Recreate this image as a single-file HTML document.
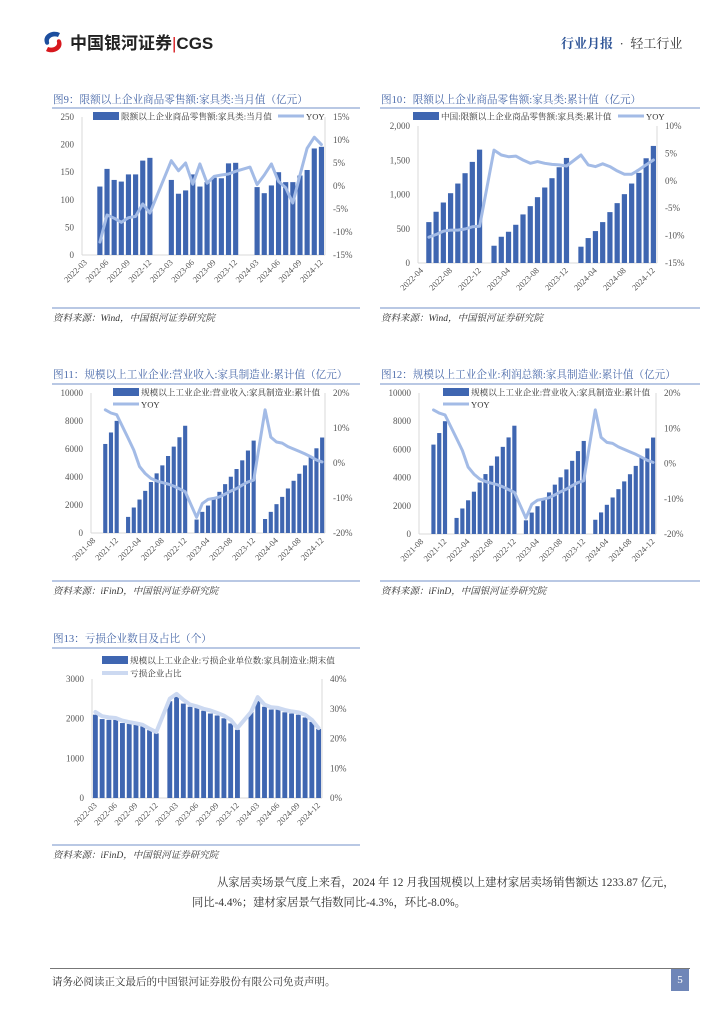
<!DOCTYPE html>
<html lang="zh">
<head>
<meta charset="utf-8">
<style>
  html,body{margin:0;padding:0;background:#fff;}
  body{width:724px;height:1024px;position:relative;overflow:hidden;font-family:"Liberation Serif","Noto Serif CJK SC","Noto Sans CJK SC",serif;}
  svg{position:absolute;left:0;top:0;}
  .abs{position:absolute;white-space:nowrap;}
</style>
</head>
<body>
<div class="abs" style="left:40px;top:29px;height:24px;">
  <svg width="26" height="24" viewBox="0 0 26 24" style="position:static;vertical-align:middle;"><path d="M20 3 C12 -1 2 5 5 13 C6 16 10 15 9 12 C8 8 13 5 18 7 Z" fill="#1d4e9e"/><path d="M6 21 C14 25 24 19 21 11 C20 8 16 9 17 12 C18 16 13 19 8 17 Z" fill="#d7181e"/></svg>
  <span style="font-family:'Liberation Sans','Noto Sans CJK SC',sans-serif;font-weight:bold;font-size:17px;color:#222;vertical-align:middle;">中国银河证券<span style="color:#d7181e;font-weight:normal;">|</span>CGS</span>
</div>
<div class="abs" style="left:561px;top:33px;font-size:13px;color:#333;font-family:'Liberation Serif','Noto Serif CJK SC',serif;"><b style="color:#2f5597;">行业月报</b> &nbsp;·&nbsp; 轻工行业</div>

<div class="abs" style="left:192px;top:873px;width:490px;font-size:11.3px;line-height:20px;color:#333;white-space:normal;text-indent:25px;">从家居卖场景气度上来看，2024 年 12 月我国规模以上建材家居卖场销售额达 1233.87 亿元，同比-4.4%；建材家居景气指数同比-4.3%，环比-8.0%。</div>

<div class="abs" style="left:50px;top:968px;width:640px;height:1px;background:#777;"></div>
<div class="abs" style="left:52px;top:974px;font-size:10.5px;color:#333;">请务必阅读正文最后的中国银河证券股份有限公司免责声明。</div>
<div class="abs" style="left:671px;top:969px;width:18px;height:22px;background:#6f86b8;color:#fff;font-size:11px;text-align:center;line-height:22px;">5</div>

<svg id="main" width="724" height="1024" xmlns="http://www.w3.org/2000/svg"></svg>

<script>
// ---------- Chart 9 data ----------
const c9Cats = ["2022-03","2022-04","2022-05","2022-06","2022-07","2022-08","2022-09","2022-10","2022-11","2022-12","2023-01","2023-02","2023-03","2023-04","2023-05","2023-06","2023-07","2023-08","2023-09","2023-10","2023-11","2023-12","2024-01","2024-02","2024-03","2024-04","2024-05","2024-06","2024-07","2024-08","2024-09","2024-10","2024-11","2024-12"];
const c9Bars = [null,null,124,156,136,133,146,146,171,176,null,null,136,111,117,146,124,132,140,139,166,167,null,null,123,112,126,150,132,132,144,154,193,196];
const c9Yoy = [null,null,-12.2,-6.3,-7,-7.9,-6.9,-6.6,-3.9,-5.9,null,null,5.5,3.3,5,0.4,4.8,0.6,2.1,2.4,2.6,3.2,null,4.1,0.3,2.4,4.8,1,-0.4,-3.7,2.4,8.2,10.6,9];
const c9LeftTicks = [0,50,100,150,200,250];
const c9LeftLabels = ["0","50","100","150","200","250"];
const c9RightTicks = [-15,-10,-5,0,5,10,15];
const c9RightLabels = ["-15%","-10%","-5%","0%","5%","10%","15%"];

// ---------- Chart 10 data ----------
const c10Cats = ["2022-04","2022-05","2022-06","2022-07","2022-08","2022-09","2022-10","2022-11","2022-12","2023-01","2023-02","2023-03","2023-04","2023-05","2023-06","2023-07","2023-08","2023-09","2023-10","2023-11","2023-12","2024-01","2024-02","2024-03","2024-04","2024-05","2024-06","2024-07","2024-08","2024-09","2024-10","2024-11","2024-12"];
const c10Bars = [null,597,748,883,1019,1160,1311,1476,1655,null,252,383,456,558,709,830,961,1102,1238,1398,1534,null,238,364,466,597,743,874,1005,1160,1316,1529,1709];
const c10Yoy = [null,-10.3,-9.8,-9.2,-9,-9,-8.8,-8.4,-8.3,null,5.6,4.7,4.4,4.5,3.8,3.2,3.5,3.2,3,2.9,2.7,null,4.7,2.9,2.6,3.1,2.6,1.8,1.2,1.2,2,2.9,3.8];
const c10LeftTicks = [0,500,1000,1500,2000];
const c10LeftLabels = ["0","500","1,000","1,500","2,000"];
const c10RightTicks = [-15,-10,-5,0,5,10];
const c10RightLabels = ["-15%","-10%","-5%","0%","5%","10%"];

// ---------- Chart 11 data ----------
const c11Cats = ["2021-08","2021-09","2021-10","2021-11","2021-12","2022-01","2022-02","2022-03","2022-04","2022-05","2022-06","2022-07","2022-08","2022-09","2022-10","2022-11","2022-12","2023-01","2023-02","2023-03","2023-04","2023-05","2023-06","2023-07","2023-08","2023-09","2023-10","2023-11","2023-12","2024-01","2024-02","2024-03","2024-04","2024-05","2024-06","2024-07","2024-08","2024-09","2024-10","2024-11","2024-12"];
const c11Bars = [null,null,6360,7180,8010,null,1150,1820,2390,3010,3640,4260,4830,5500,6170,6840,7660,null,960,1510,1960,2460,2940,3490,4020,4570,5190,5890,6600,null,1000,1510,2060,2580,3180,3730,4230,4830,5450,6050,6820];
const c11Yoy = [null,null,15.2,14.3,13.8,null,7.1,3.7,-1,-3,-4.4,-5.1,-5.6,-6,-6.6,-7.4,-8.2,null,-15.5,-11.6,-10.4,-10.1,-9.7,-8.9,-8,-7.3,-6.3,-5.4,-4.9,null,15.2,7.4,6,5.7,4.7,4,3.3,2.6,1.8,0.9,0.3];
const c11LeftTicks = [0,2000,4000,6000,8000,10000];
const c11LeftLabels = ["0","2000","4000","6000","8000","10000"];
const c11RightTicks = [-20,-10,0,10,20];
const c11RightLabels = ["-20%","-10%","0%","10%","20%"];

// ---------- Chart 12 data ----------
const c12Cats = c11Cats.slice();
const c12Bars = [null,null,6340,7160,8000,null,1140,1810,2390,3000,3650,4250,4840,5500,6180,6850,7680,null,970,1520,1970,2450,2950,3500,4020,4580,5190,5880,6600,null,1010,1530,2070,2590,3180,3730,4240,4830,5460,6070,6840];
const c12Yoy = [null,null,15.2,14.3,13.8,null,7.1,3.7,-1,-3,-4.4,-5.1,-5.6,-6,-6.6,-7.4,-8.2,null,-15.5,-11.6,-10.4,-10.1,-9.7,-8.9,-8,-7.3,-6.3,-5.4,-4.9,null,15.2,7.4,6,5.7,4.7,4,3.3,2.6,1.8,0.9,0.3];
const c12LeftTicks = [0,2000,4000,6000,8000,10000];
const c12LeftLabels = ["0","2000","4000","6000","8000","10000"];
const c12RightTicks = [-20,-10,0,10,20];
const c12RightLabels = ["-20%","-10%","0%","10%","20%"];

// ---------- Chart 13 data ----------
const c13Cats = c9Cats.slice();
const c13Bars = [2100,1990,1970,1970,1890,1870,1840,1810,1710,1630,null,2440,2550,2380,2300,2280,2200,2130,2080,2010,1880,1720,null,2170,2450,2300,2230,2230,2160,2130,2100,2030,1920,1740];
const c13Ratio = [28.9,27.5,27.1,26.9,26,25.5,25.1,24.6,23.3,22.2,null,33.4,35,33,31.4,30.8,30,29.4,28.6,27.7,26.3,23.5,null,28.9,33.9,31.4,30.5,30.3,29.6,29.1,28.8,28,26.3,23.5];
const c13LeftTicks = [0,1000,2000,3000];
const c13LeftLabels = ["0","1000","2000","3000"];
const c13RightTicks = [0,10,20,30,40];
const c13RightLabels = ["0%","10%","20%","30%","40%"];

const NS = "http://www.w3.org/2000/svg";
const svg = document.getElementById('main');
const BAR = "#3f66b1", LINE = "#a3bbe6", TITLE = "#4a6aaa", RULE = "#8fa6d4", GRAY = "#555";

function mk(tag, attrs, parent){
  const e = document.createElementNS(NS, tag);
  for (const k in attrs) e.setAttribute(k, attrs[k]);
  (parent||svg).appendChild(e);
  return e;
}
function txt(x,y,s,size,fill,anchor,parent,extra){
  const t = mk('text',{x:x,y:y,'font-size':size,fill:fill,'text-anchor':anchor||'start','font-family':'"Liberation Serif","Noto Serif CJK SC",serif'},parent);
  if(extra) for(const k in extra) t.setAttribute(k,extra[k]);
  t.textContent = s;
  return t;
}

function drawChart(o){
  const g = mk('g',{});
  
  
  const tt = txt(o.px0+1, o.titleY, o.title, 10.6, TITLE, 'start', g);
  
  
  const r1 = mk('line',{x1:o.px0,x2:o.px1,y1:o.ruleY,y2:o.ruleY,stroke:RULE,'stroke-width':1.2},g);
  
  
  const r2 = mk('line',{x1:o.px0,x2:o.px1,y1:o.srcRuleY,y2:o.srcRuleY,stroke:RULE,'stroke-width':1.2},g);
  
  
  const st = txt(o.px0+1, o.srcY, o.source, 9.5, '#333', 'start', g, {'font-style':'italic'});
  
  

  const n = o.cats.length;
  const w = (o.x1 - o.x0)/n;
  const xc = i => o.x0 + (i+0.5)*w;
  const yL = v => o.y1 - (v - o.lMin)/(o.lMax - o.lMin)*(o.y1 - o.y0);
  const yR = v => o.y1 - (v - o.rMin)/(o.rMax - o.rMin)*(o.y1 - o.y0);

  mk('line',{x1:o.x0,x2:o.x0,y1:o.y0,y2:o.y1,stroke:'#d9d9d9','stroke-width':1},g);
  mk('line',{x1:o.x1,x2:o.x1,y1:o.y0,y2:o.y1,stroke:'#d9d9d9','stroke-width':1},g);
  const ax = mk('line',{x1:o.x0,x2:o.x1,y1:o.y1,y2:o.y1,stroke:'#d9d9d9','stroke-width':1},g);
  
  

  o.lTicks.forEach((v,i)=>{
    const t = txt(o.x0-8, yL(v)+3, o.lLabels[i], 9, GRAY, 'end', g);
    
    
  });
  o.rTicks.forEach((v,i)=>{
    const t = txt(o.x1+8, yR(v)+3, o.rLabels[i], 9, GRAY, 'start', g);
    
    
  });
  o.cats.forEach((c,i)=>{
    if (i % o.every !== 0) return;
    const x = xc(i), y = o.y1 + 6;
    const t = txt(x+2, y+2, c, 8.5, GRAY, 'end', g, {transform:`rotate(-45 ${x+2} ${y+2})`});
    
    
  });

  const bw = w*0.72;
  o.bars.forEach((v,i)=>{
    if (v === null) return;
    const r = mk('rect',{x:xc(i)-bw/2,y:yL(v),width:bw,height:o.y1-yL(v),fill:BAR},g);
    
    
  });
  let d = '';
  o.line.forEach((v,i)=>{
    if (v === null) return;
    d += (d ? 'L' : 'M') + xc(i).toFixed(1) + ' ' + yR(v).toFixed(1) + ' ';
  });
  const p = mk('path',{d:d,fill:'none',stroke:o.lineColor||LINE,'stroke-width':o.lineWidth||3,'stroke-linejoin':'round','stroke-linecap':'round'},g);
  
  

  const lg = mk('g',{},g);
  
  
  const L = o.legend;
  mk('rect',{x:L.bx,y:L.by-4,width:26,height:8,fill:BAR},lg);
  txt(L.bx+28, L.by+3.5, o.barName, 8.6, '#333', 'start', lg);
  mk('line',{x1:L.lx,x2:L.lx+26,y1:L.ly,y2:L.ly,stroke:o.lineColor||LINE,'stroke-width':o.lineWidth||3},lg);
  txt(L.lx+28, L.ly+3.5, o.lineName, 8.6, '#333', 'start', lg);
}

drawChart({name:'chart-fig9', title:'图9：限额以上企业商品零售额:家具类:当月值（亿元）', source:'资料来源：Wind，中国银河证券研究院',
  px0:52, px1:360, titleY:103, ruleY:108, srcRuleY:308, srcY:321,
  x0:82, x1:325, y0:117, y1:255, cats:c9Cats, bars:c9Bars, line:c9Yoy,
  lMin:0, lMax:250, lTicks:c9LeftTicks, lLabels:c9LeftLabels,
  rMin:-15, rMax:15, rTicks:c9RightTicks, rLabels:c9RightLabels, every:3,
  barName:'限额以上企业商品零售额:家具类:当月值', lineName:'YOY',
  legend:{bx:93, by:116, lx:278, ly:116}});

drawChart({name:'chart-fig10', title:'图10：限额以上企业商品零售额:家具类:累计值（亿元）', source:'资料来源：Wind，中国银河证券研究院',
  px0:380, px1:700, titleY:103, ruleY:108, srcRuleY:308, srcY:321,
  x0:418, x1:657, y0:126, y1:263, cats:c10Cats, bars:c10Bars, line:c10Yoy,
  lMin:0, lMax:2000, lTicks:c10LeftTicks, lLabels:c10LeftLabels,
  rMin:-15, rMax:10, rTicks:c10RightTicks, rLabels:c10RightLabels, every:4,
  barName:'中国:限额以上企业商品零售额:家具类:累计值', lineName:'YOY',
  legend:{bx:413, by:116, lx:618, ly:116}});

drawChart({name:'chart-fig11', title:'图11：规模以上工业企业:营业收入:家具制造业:累计值（亿元）', source:'资料来源：iFinD，中国银河证券研究院',
  px0:52, px1:360, titleY:378, ruleY:384, srcRuleY:581, srcY:594,
  x0:91, x1:325, y0:393, y1:533, cats:c11Cats, bars:c11Bars, line:c11Yoy,
  lMin:0, lMax:10000, lTicks:c11LeftTicks, lLabels:c11LeftLabels,
  rMin:-20, rMax:20, rTicks:c11RightTicks, rLabels:c11RightLabels, every:4,
  barName:'规模以上工业企业:营业收入:家具制造业:累计值', lineName:'YOY',
  legend:{bx:113, by:392, lx:113, ly:404}});

drawChart({name:'chart-fig12', title:'图12：规模以上工业企业:利润总额:家具制造业:累计值（亿元）', source:'资料来源：iFinD，中国银河证券研究院',
  px0:380, px1:700, titleY:378, ruleY:384, srcRuleY:581, srcY:594,
  x0:419, x1:656, y0:393, y1:534, cats:c12Cats, bars:c12Bars, line:c12Yoy,
  lMin:0, lMax:10000, lTicks:c12LeftTicks, lLabels:c12LeftLabels,
  rMin:-20, rMax:20, rTicks:c12RightTicks, rLabels:c12RightLabels, every:4,
  barName:'规模以上工业企业:营业收入:家具制造业:累计值', lineName:'YOY',
  legend:{bx:443, by:392, lx:443, ly:404}});

drawChart({name:'chart-fig13', title:'图13：亏损企业数目及占比（个）', source:'资料来源：iFinD，中国银河证券研究院',
  px0:52, px1:360, titleY:642, ruleY:648, srcRuleY:845, srcY:858,
  x0:92, x1:322, y0:679, y1:798, cats:c13Cats, bars:c13Bars, line:c13Ratio,
  lMin:0, lMax:3000, lTicks:c13LeftTicks, lLabels:c13LeftLabels,
  rMin:0, rMax:40, rTicks:c13RightTicks, rLabels:c13RightLabels, every:3,
  lineColor:'#ccd9f1', lineWidth:4,
  barName:'规模以上工业企业:亏损企业单位数:家具制造业:期末值', lineName:'亏损企业占比',
  legend:{bx:102, by:660, lx:102, ly:673}});
</script>
</body>
</html>
